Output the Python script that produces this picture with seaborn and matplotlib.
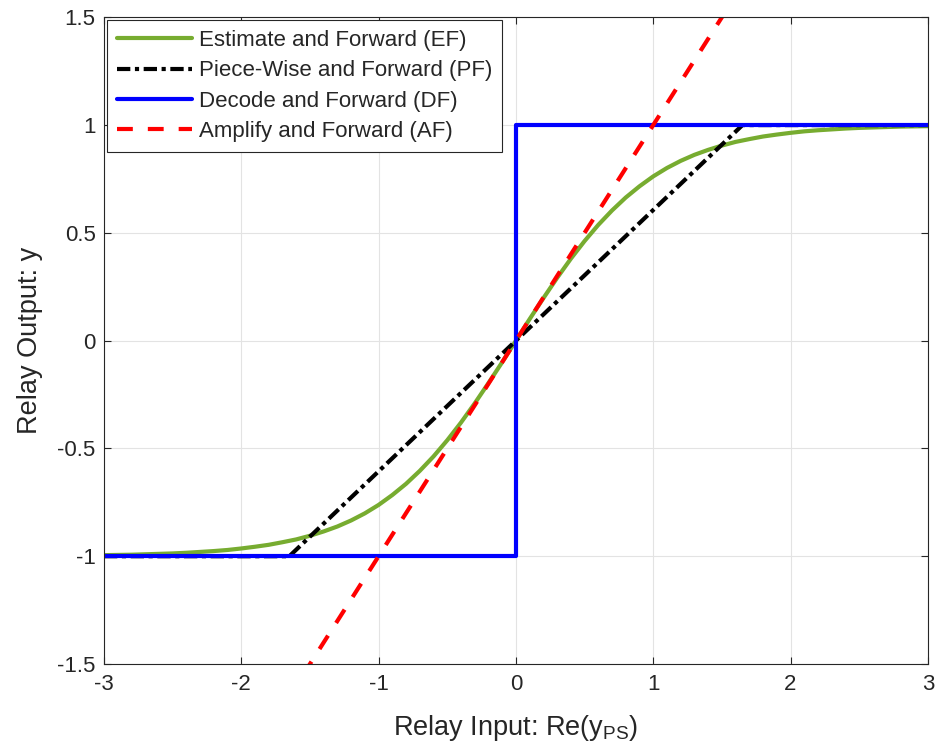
import numpy as np
import pandas as pd
import matplotlib
matplotlib.use("Agg")
import matplotlib.pyplot as plt
import seaborn as sns

# ── Data ──────────────────────────────────────────────────────────────────────
ef_x = [-3.0, -2.9, -2.8, -2.7, -2.6, -2.5, -2.4, -2.3, -2.2, -2.1, -2.0,
        -1.9, -1.8, -1.7, -1.6, -1.5, -1.4, -1.3, -1.2, -1.1, -1.0,
        -0.9, -0.8, -0.7, -0.6, -0.5, -0.4, -0.3, -0.2, -0.1, 0.0,
        0.1, 0.2, 0.3, 0.4, 0.5, 0.6, 0.7, 0.8, 0.9, 1.0,
        1.1, 1.2, 1.3, 1.4, 1.5, 1.6, 1.7, 1.8, 1.9, 2.0,
        2.1, 2.2, 2.3, 2.4, 2.5, 2.6, 2.7, 2.8, 2.9, 3.0]
ef_y = [-0.995, -0.994, -0.993, -0.991, -0.989, -0.987, -0.984, -0.980, -0.976, -0.971, -0.964,
        -0.956, -0.947, -0.935, -0.922, -0.905, -0.885, -0.862, -0.834, -0.801, -0.762,
        -0.716, -0.664, -0.604, -0.537, -0.462, -0.380, -0.291, -0.197, -0.100, 0.0,
        0.100, 0.197, 0.291, 0.380, 0.462, 0.537, 0.604, 0.664, 0.716, 0.762,
        0.801, 0.834, 0.862, 0.885, 0.905, 0.922, 0.935, 0.947, 0.956, 0.964,
        0.971, 0.976, 0.980, 0.984, 0.987, 0.989, 0.991, 0.993, 0.994, 0.995]

pf_x = [-3.0, -1.65, 1.65, 3.0]
pf_y = [-1.0, -1.0, 1.0, 1.0]

df_x = [-3.0, 0.0, 0.0, 3.0]
df_y = [-1.0, -1.0, 1.0, 1.0]

af_x = [-3.0, 3.0]
af_y = [-3.0, 3.0]

labels = ['Estimate and Forward (EF)', 'Piece-Wise and Forward (PF)',
          'Decode and Forward (DF)', 'Amplify and Forward (AF)']

x_ticks = [-3, -2, -1, 0, 1, 2, 3]
y_ticks = [-1.5, -1, -0.5, 0, 0.5, 1, 1.5]
y_ticklabels = ['-1.5', '-1', '-0.5', '0', '0.5', '1', '1.5']

# ── Plot ──────────────────────────────────────────────────────────────────────
sns.set_theme(style="whitegrid")
plt.rcParams['font.family'] = ['Liberation Sans', 'DejaVu Sans']
plt.rcParams['mathtext.fontset'] = 'custom'
plt.rcParams['mathtext.rm'] = 'Liberation Sans'

fig = plt.figure(figsize=(9.41, 7.52), dpi=100)
ax = fig.add_axes([0.1105, 0.117, 0.8755, 0.860])

GREEN, BLACK, BLUE, RED = '#77AC30', '#000000', '#0000FF', '#FF0000'
LW = 3.0
TXT = '#262626'

series = [
    (ef_x, ef_y, GREEN, '-'),
    (pf_x, pf_y, BLACK, (0, (3.2, 1.1, 1.0, 1.1))),
    (df_x, df_y, BLUE, '-'),
    (af_x, af_y, RED, (0, (3.8, 3.6))),
]
for (xs, ys, col, ls), lab in zip(series, labels):
    d = pd.DataFrame({'x': xs, 'y': ys})
    sns.lineplot(data=d, x='x', y='y', sort=False, estimator=None, color=col,
                 linewidth=LW, linestyle=ls, label=lab, ax=ax)

ax.set_xlim(-3, 3)
ax.set_ylim(-1.5, 1.5)
ax.set_xticks(x_ticks)
ax.set_xticklabels([str(t) for t in x_ticks])
ax.set_yticks(y_ticks)
ax.set_yticklabels(y_ticklabels)
ax.tick_params(direction='in', length=5, width=0.8, colors=TXT,
               labelsize=16, top=True, right=True, bottom=True, left=True,
               labelcolor=TXT, pad=7)
ax.tick_params(axis='y', pad=6)
ax.grid(True, color='#e3e3e3', linewidth=0.8)
ax.set_facecolor('white')
for sp in ax.spines.values():
    sp.set_color(TXT)
    sp.set_linewidth(0.8)

ax.set_xlabel('Relay Input: Re(y$_{\\mathrm{PS}}$)', fontsize=19.5, color=TXT, labelpad=13)
ax.set_ylabel('Relay Output: y', fontsize=19.5, color=TXT, labelpad=10)

leg = ax.legend(loc='upper left', fontsize=16, frameon=True, fancybox=False,
                framealpha=1, edgecolor=TXT, borderaxespad=0.12,
                handlelength=3.4, handletextpad=0.3, labelspacing=0.42, borderpad=0.45)
leg.get_frame().set_linewidth(0.8)

plt.savefig('out.png', dpi=100)
